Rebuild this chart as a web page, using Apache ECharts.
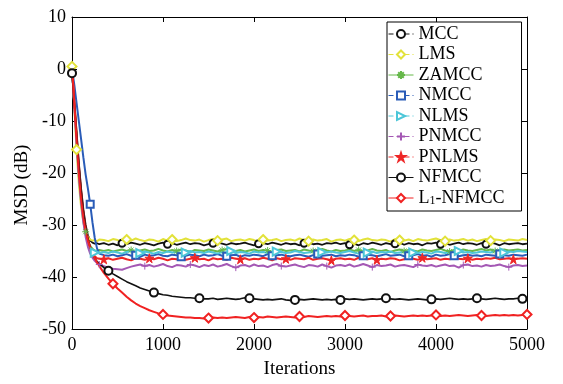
<!DOCTYPE html>
<html>
<head>
<meta charset="utf-8">
<title>MSD curves</title>
<script src="https://cdn.jsdelivr.net/npm/echarts@6/dist/echarts.min.js"></script>
<style>
  html, body { margin: 0; padding: 0; background: #fff; }
  #chart { width: 563px; height: 384px; }
</style>
</head>
<body>
<div id="chart"></div>
<script>
// sample grid (iterations)
var iters = [0,25,50,75,100,125,150,175,200,225,250,275,300,
  350,400,450,500,550,600,650,700,750,800,850,900,950,1000,
  1050,1100,1150,1200,1250,1300,1350,1400,1450,1500,1550,1600,1650,1700,1750,1800,1850,1900,1950,2000,
  2050,2100,2150,2200,2250,2300,2350,2400,2450,2500,2550,2600,2650,2700,2750,2800,2850,2900,2950,3000,
  3050,3100,3150,3200,3250,3300,3350,3400,3450,3500,3550,3600,3650,3700,3750,3800,3850,3900,3950,4000,
  4050,4100,4150,4200,4250,4300,4350,4400,4450,4500,4550,4600,4650,4700,4750,4800,4850,4900,4950,5000];

var xTicks = [0, 1000, 2000, 3000, 4000, 5000];
var yTicks = [-50, -40, -30, -20, -10, 0, 10];

var mcc = [-0.8,-6,-12,-18,-23,-27,-30,-32,-33,-33.4,-33.6,-33.5,-33.7,
  -33.5,-33.8,-33.6,-33.9,-33.5,-33.7,-33.4,-33.6,-33.8,-33.5,
  -33.7,-33.9,-33.6,-33.4,-33.7,-33.5,-33.8,-33.6,-33.4,-33.7,
  -33.5,-33.6,-33.9,-33.7,-33.5,-33.4,-33.6,-33.8,-33.5,-33.7,
  -33.6,-33.4,-33.7,-33.9,-33.6,-33.5,-33.7,-33.4,-33.6,-33.8,
  -33.5,-33.7,-33.6,-33.9,-33.5,-33.4,-33.7,-33.6,-33.8,-33.5,
  -33.6,-33.4,-33.7,-33.5,-33.8,-33.6,-33.9,-33.5,-33.7,-33.4,
  -33.6,-33.8,-33.5,-33.7,-33.6,-33.4,-33.8,-33.5,-33.7,-33.6,
  -33.9,-33.5,-33.6,-33.4,-33.7,-33.5,-33.8,-33.6,-33.4,-33.7,
  -33.5,-33.6,-33.8,-33.5,-33.7,-33.4,-33.6,-33.9,-33.5,-33.7,
  -33.6,-33.5,-33.7,-33.6];
var lms = [0.5,-7,-15.5,-22,-26.5,-29.5,-31.3,-32.3,-32.8,-33.0,-32.9,-33.1,-32.8,
  -32.9,-33.1,-32.7,-32.9,-33.2,-32.8,-33.0,-32.6,-32.9,-33.1,
  -32.8,-32.9,-33.2,-32.7,-33.0,-32.8,-33.1,-32.9,-32.6,-32.9,
  -33.0,-32.8,-33.2,-32.9,-32.7,-33.0,-32.8,-32.6,-33.1,-32.9,
  -32.8,-33.0,-32.7,-32.9,-33.2,-32.8,-33.0,-32.9,-32.7,-33.1,
  -32.9,-32.8,-33.0,-32.6,-32.9,-33.1,-32.8,-33.0,-32.9,-32.7,
  -33.2,-32.9,-32.8,-33.0,-32.7,-32.9,-33.1,-32.8,-32.6,-32.9,
  -33.0,-32.8,-32.9,-33.2,-32.7,-32.9,-33.0,-32.8,-33.1,-32.7,
  -32.9,-33.0,-32.8,-32.6,-32.9,-33.1,-32.8,-33.0,-32.9,-32.7,
  -33.0,-32.8,-33.1,-32.9,-32.7,-33.0,-32.8,-32.9,-33.1,-32.8,
  -32.9,-33.0,-32.7,-32.9];
var zamcc = [0,-6.5,-13,-19.5,-24.5,-28.5,-31.3,-33,-34,-34.6,-34.9,-35.0,-34.8,
  -35.0,-34.8,-35.1,-34.9,-34.7,-35.0,-34.8,-35.2,-34.9,-34.7,
  -35.0,-34.9,-34.6,-34.9,-35.1,-34.8,-35.0,-34.7,-34.9,-35.2,
  -34.8,-34.9,-35.0,-34.7,-34.9,-35.1,-34.8,-34.6,-34.9,-35.0,
  -34.8,-35.1,-34.9,-34.7,-35.0,-34.8,-34.9,-35.2,-34.8,-34.7,
  -35.0,-34.9,-34.8,-35.1,-34.7,-34.9,-35.0,-34.8,-34.6,-34.9,
  -35.1,-34.8,-35.0,-34.9,-34.7,-35.0,-34.8,-35.1,-34.9,-34.6,
  -34.9,-35.0,-34.8,-35.2,-34.9,-34.7,-35.0,-34.8,-34.9,-35.1,
  -34.7,-34.9,-35.0,-34.8,-34.6,-34.9,-35.1,-34.8,-35.0,-34.7,
  -34.9,-35.0,-34.8,-34.6,-34.9,-34.7,-35.0,-34.8,-34.7,-34.9,
  -34.8,-34.7,-34.9,-34.8];
var nmcc = [0,-3,-6.5,-10,-13.5,-17,-20.3,-23,-26,-29.5,-32.5,-34.5,-35.5,
  -35.8,-35.9,-35.7,-36.0,-35.8,-35.6,-35.9,-35.8,-36.1,-35.7,
  -35.9,-35.8,-35.6,-35.9,-36.0,-35.7,-35.8,-36.1,-35.9,-35.7,
  -35.8,-36.0,-35.7,-35.9,-35.8,-35.6,-35.9,-36.0,-35.8,-35.7,
  -36.1,-35.8,-35.9,-35.7,-35.8,-36.0,-35.6,-35.9,-35.8,-35.7,
  -35.9,-36.0,-35.8,-35.7,-35.9,-36.1,-35.8,-35.6,-35.9,-35.8,
  -35.7,-36.0,-35.8,-35.9,-35.7,-35.8,-36.1,-35.9,-35.7,-35.8,
  -36.0,-35.8,-35.6,-35.9,-35.8,-35.7,-36.0,-35.9,-35.8,-35.6,
  -35.9,-35.8,-36.1,-35.7,-35.9,-35.8,-35.6,-35.9,-36.0,-35.8,
  -35.7,-35.9,-35.8,-36.0,-35.7,-35.8,-35.9,-35.6,-35.8,-35.9,
  -35.7,-35.8,-35.9,-35.7];
var nlms = [0.3,-6.8,-14,-20.5,-25.5,-29.3,-31.8,-33.5,-34.5,-35,-35.3,-35.2,-35.4,
  -35.2,-35.4,-35.1,-35.3,-35.5,-35.2,-35.0,-35.3,-35.4,-35.1,
  -35.3,-35.5,-35.2,-35.4,-35.1,-35.3,-35.2,-35.5,-35.3,-35.0,
  -35.3,-35.2,-35.4,-35.1,-35.3,-35.5,-35.2,-35.3,-35.0,-35.4,
  -35.2,-35.3,-35.5,-35.1,-35.3,-35.2,-35.4,-35.3,-35.1,-35.2,
  -35.4,-35.3,-35.0,-35.2,-35.4,-35.3,-35.1,-35.5,-35.2,-35.3,
  -35.1,-35.3,-35.4,-35.2,-35.0,-35.3,-35.5,-35.2,-35.3,-35.1,
  -35.4,-35.2,-35.3,-35.1,-35.4,-35.3,-35.2,-35.0,-35.3,-35.4,
  -35.2,-35.3,-35.5,-35.1,-35.2,-35.4,-35.3,-35.1,-35.0,-35.3,
  -35.2,-35.4,-35.3,-35.1,-35.2,-35.3,-35.0,-35.2,-35.3,-35.1,
  -35.2,-35.0,-35.1,-35.2];
var pnmcc = [0,-7,-14,-20.5,-25.5,-29.5,-32.3,-34.2,-35.5,-36.3,-36.9,-37.3,-37.6,
  -37.9,-38.2,-38.4,-38.5,-38.6,-38.3,-38.0,-37.8,-37.6,-37.9,
  -37.7,-38.0,-37.8,-37.5,-37.9,-38.1,-37.7,-37.8,-38.0,-37.6,
  -37.8,-38.1,-37.7,-37.9,-37.6,-38.0,-37.8,-37.5,-37.9,-38.2,
  -37.8,-37.7,-38.0,-37.6,-37.9,-37.8,-38.1,-37.7,-37.5,-37.9,
  -38.0,-37.8,-37.6,-37.9,-38.1,-37.7,-37.8,-38.0,-37.6,-37.9,
  -38.2,-37.8,-37.7,-37.9,-37.6,-38.0,-37.8,-37.5,-37.8,-38.1,
  -37.7,-37.9,-37.8,-37.6,-38.0,-37.8,-37.7,-37.9,-38.1,-37.6,
  -37.8,-37.9,-37.7,-38.0,-37.8,-37.6,-37.9,-37.8,-38.2,-37.7,
  -37.6,-37.9,-37.8,-38.0,-37.7,-37.9,-37.8,-37.6,-37.9,-38.1,
  -37.8,-37.7,-37.9,-37.8];
var pnlms = [0.5,-6,-12.5,-18.5,-23.5,-27.5,-30.5,-32.7,-34.3,-35.4,-36.0,-36.4,-36.5,
  -36.6,-36.4,-36.7,-36.5,-36.3,-36.6,-36.8,-36.4,-36.5,-36.7,
  -36.4,-36.6,-36.3,-36.5,-36.8,-36.5,-36.6,-36.4,-36.7,-36.5,
  -36.3,-36.6,-36.5,-36.8,-36.4,-36.6,-36.5,-36.7,-36.3,-36.5,
  -36.6,-36.4,-36.7,-36.5,-36.6,-36.3,-36.5,-36.8,-36.4,-36.6,
  -36.5,-36.7,-36.4,-36.5,-36.6,-36.3,-36.7,-36.5,-36.4,-36.6,
  -36.8,-36.5,-36.4,-36.6,-36.5,-36.7,-36.3,-36.5,-36.6,-36.4,
  -36.7,-36.5,-36.6,-36.4,-36.5,-36.8,-36.6,-36.4,-36.5,-36.7,
  -36.3,-36.6,-36.5,-36.4,-36.7,-36.5,-36.6,-36.3,-36.5,-36.6,
  -36.4,-36.7,-36.5,-36.6,-36.4,-36.5,-36.3,-36.6,-36.5,-36.4,
  -36.6,-36.5,-36.4,-36.5];
var nfmcc = [-0.8,-6.5,-12.5,-18.5,-23.5,-27.5,-30.5,-32.7,-34.3,-35.6,-36.4,-37.0,-37.4,
  -38.2,-38.8,-39.4,-39.9,-40.4,-40.9,-41.3,-41.7,-42.1,-42.4,
  -42.7,-43.0,-43.2,-43.4,-43.5,-43.7,-43.8,-43.9,-44.0,-44.0,
  -44.1,-44.1,-44.2,-44.2,-44.1,-44.3,-44.2,-44.1,-44.2,-44.3,
  -44.2,-44.0,-44.1,-44.2,-44.3,-44.4,-44.3,-44.4,-44.3,-44.2,
  -44.4,-44.5,-44.4,-44.3,-44.4,-44.3,-44.2,-44.3,-44.4,-44.3,
  -44.4,-44.3,-44.4,-44.2,-44.3,-44.2,-44.3,-44.4,-44.3,-44.2,
  -44.3,-44.2,-44.1,-44.2,-44.3,-44.2,-44.3,-44.4,-44.3,-44.2,
  -44.3,-44.4,-44.3,-44.2,-44.3,-44.2,-44.1,-44.2,-44.3,-44.2,
  -44.3,-44.2,-44.1,-44.2,-44.3,-44.2,-44.1,-44.2,-44.3,-44.2,
  -44.2,-44.1,-44.2,-44.2];
var l1nfmcc = [0.5,-6.5,-13.5,-20,-25,-28.7,-31.2,-33,-34.4,-35.5,-36.4,-37.2,-37.9,
  -39.2,-40.3,-41.3,-42.2,-43.0,-43.8,-44.5,-45.1,-45.6,-46.0,
  -46.4,-46.7,-47.0,-47.2,-47.4,-47.5,-47.6,-47.7,-47.8,-47.8,
  -47.9,-47.9,-48.0,-47.9,-47.8,-47.9,-47.8,-47.9,-47.8,-47.7,
  -47.8,-47.9,-47.7,-47.8,-47.7,-47.8,-47.6,-47.7,-47.8,-47.7,
  -47.6,-47.7,-47.8,-47.6,-47.7,-47.5,-47.6,-47.7,-47.6,-47.5,
  -47.6,-47.5,-47.6,-47.4,-47.5,-47.6,-47.5,-47.4,-47.6,-47.5,
  -47.5,-47.4,-47.6,-47.5,-47.4,-47.5,-47.6,-47.5,-47.4,-47.5,
  -47.4,-47.5,-47.4,-47.3,-47.5,-47.4,-47.5,-47.4,-47.3,-47.4,
  -47.5,-47.4,-47.3,-47.4,-47.5,-47.4,-47.3,-47.4,-47.3,-47.4,
  -47.3,-47.4,-47.3,-47.2];

// iterations where each curve carries a marker
var mccMarks = [0, 550, 1050, 1550, 2050, 2550, 3050, 3550, 4050, 4550];
var lmsMarks = [0, 50, 600, 1100, 1600, 2100, 2600, 3100, 3600, 4100, 4600];
var zamccMarks = [150, 650, 1150, 1650, 2150, 2650, 3150, 3650, 4150, 4650];
var nmccMarks = [200, 700, 1200, 1700, 2200, 2700, 3200, 3700, 4200, 4700];
var nlmsMarks = [250, 750, 1250, 1750, 2250, 2750, 3250, 3750, 4250, 4750];
var pnmccMarks = [300, 800, 1300, 1800, 2300, 2800, 3300, 3800, 4300, 4800];
var pnlmsMarks = [350, 850, 1350, 1850, 2350, 2850, 3350, 3850, 4350, 4850];
var nfmccMarks = [0, 400, 900, 1400, 1950, 2450, 2950, 3450, 3950, 4450, 4950];
var l1Marks = [450, 1000, 1500, 2000, 2500, 3000, 3500, 4000, 4500, 5000];

var FONT = '"Liberation Serif", "Times New Roman", serif';
var STAR = 'path://M5,0L6.2,3.8L10,3.8L6.9,6.1L8.1,10L5,7.6L1.9,10L3.1,6.1L0,3.8L3.8,3.8Z';
var PLUS = 'path://M5,0L5,10M0,5L10,5';
var ASTER = 'path://M5,0L5,10M0,5L10,5M1.5,1.5L8.5,8.5M8.5,1.5L1.5,8.5';

function pts(vals, marks) {
  return iters.map(function (x, i) {
    if (marks.indexOf(x) >= 0) return [x, vals[i]];
    return { value: [x, vals[i]], symbol: 'none' };
  });
}

function mk(name, vals, marks, color, symbol, size, width, rotate) {
  return {
    name: name,
    type: 'line',
    data: pts(vals, marks),
    color: color,
    symbol: symbol,
    symbolSize: size,
    symbolRotate: rotate || 0,
    showSymbol: true,
    animation: false,
    itemStyle: { color: color, borderColor: color, borderWidth: 1 },
    lineStyle: { color: color, width: width }
  };
}

var series = [
  mk('MCC', mcc, mccMarks, '#111111', 'emptyCircle', 7, 1.8),
  mk('LMS', lms, lmsMarks, '#e2e23a', 'emptyDiamond', 9, 2),
  mk('ZAMCC', zamcc, zamccMarks, '#66b84a', ASTER, 7, 2),
  mk('NMCC', nmcc, nmccMarks, '#2a5cb8', 'emptyRect', 7, 2),
  mk('NLMS', nlms, nlmsMarks, '#4cc6d8', 'emptyTriangle', 8, 2, -90),
  mk('PNMCC', pnmcc, pnmccMarks, '#a458b4', PLUS, 7, 2),
  mk('PNLMS', pnlms, pnlmsMarks, '#ee2626', STAR, 9, 2),
  mk('NFMCC', nfmcc, nfmccMarks, '#111111', 'emptyCircle', 8, 1.6),
  mk('L1-NFMCC', l1nfmcc, l1Marks, '#f02222', 'emptyDiamond', 9, 2)
];

var dashedNames = ['MCC', 'LMS', 'NMCC', 'NLMS', 'PNMCC', 'PNLMS'];
var legendData = series.map(function (s) {
  var d = { name: s.name };
  if (dashedNames.indexOf(s.name) >= 0) d.lineStyle = { type: [5, 3], width: 1 };
  else d.lineStyle = { width: 1 };
  return d;
});

var chart = echarts.init(document.getElementById('chart'), null, { renderer: 'canvas' });

var axisCommon = {
  axisLine: { show: true, onZero: false, lineStyle: { color: '#000', width: 1 } },
  axisTick: { show: true, inside: true, length: 5, lineStyle: { color: '#000' } },
  splitLine: { show: false }
};

chart.setOption({
  backgroundColor: '#fff',
  animation: false,
  textStyle: { fontFamily: FONT },
  grid: { left: 72, right: 36, top: 17, bottom: 53, containLabel: false },
  legend: {
    orient: 'vertical',
    left: 387,
    top: 22,
    data: legendData,
    itemWidth: 25,
    itemHeight: 10,
    itemGap: 2.5,
    padding: [3, 17, 4, 1],
    borderColor: '#000',
    borderWidth: 1,
    backgroundColor: '#fff',
    formatter: function (name) {
      return name === 'L1-NFMCC' ? 'L{s|1}-NFMCC' : name;
    },
    textStyle: {
      fontFamily: FONT, fontSize: 18, color: '#000', lineHeight: 18,
      rich: { s: { fontFamily: FONT, fontSize: 12, color: '#000', verticalAlign: 'bottom', lineHeight: 18 } }
    }
  },
  xAxis: [
    Object.assign({
      type: 'value', min: 0, max: 5000, interval: 1000, position: 'bottom',
      name: 'Iterations', nameLocation: 'middle', nameGap: 31,
      nameTextStyle: { fontFamily: FONT, fontSize: 19, color: '#000' },
      axisLabel: {
        fontFamily: FONT, fontSize: 18, color: '#000', margin: 7,
        formatter: function (v) { return xTicks.indexOf(v) >= 0 ? String(v) : ''; }
      }
    }, axisCommon),
    Object.assign({
      type: 'value', min: 0, max: 5000, interval: 1000, position: 'top',
      axisLabel: { show: false }
    }, axisCommon)
  ],
  yAxis: [
    Object.assign({
      type: 'value', min: -50, max: 10, interval: 10, position: 'left',
      name: 'MSD (dB)', nameLocation: 'middle', nameGap: 39,
      nameTextStyle: { fontFamily: FONT, fontSize: 19, color: '#000', padding: [0, 24, 0, 0] },
      axisLabel: {
        fontFamily: FONT, fontSize: 18, color: '#000', margin: 6,
        formatter: function (v) { return yTicks.indexOf(v) >= 0 ? String(v) : ''; }
      }
    }, axisCommon),
    Object.assign({
      type: 'value', min: -50, max: 10, interval: 10, position: 'right',
      axisLabel: { show: false }
    }, axisCommon)
  ],
  series: series
});
</script>
</body>
</html>
